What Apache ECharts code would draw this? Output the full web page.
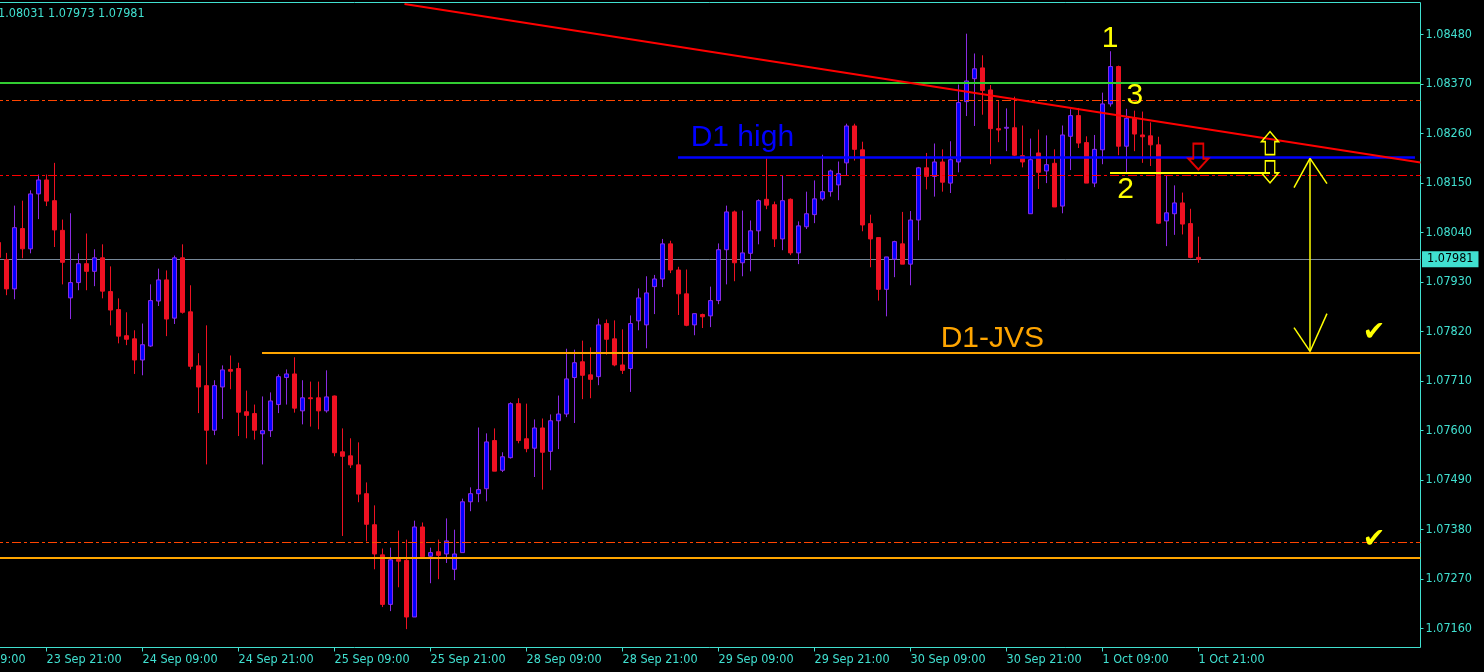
<!DOCTYPE html>
<html><head><meta charset="utf-8">
<script src="https://cdn.jsdelivr.net/npm/echarts@6/dist/echarts.min.js"></script>
<style>html,body{margin:0;padding:0;background:#000;}#c{width:1484px;height:672px;}</style>
</head><body><div id="c"></div>
<script>
// ---- DATA (EURUSD H1) ----
const firstBar = -1; // bar number of the first entry
const openP  = [1.08018,1.07980,1.07915,1.08049,1.08004,1.08126,1.08157,1.08111,1.08045,1.07895,1.07929,1.07971,1.07954,1.07984,1.07909,1.07869,1.07811,1.07804,1.07757,1.07788,1.07888,1.07935,1.07850,1.07984,1.07864,1.07744,1.07700,1.07601,1.07697,1.07736,1.07738,1.07642,1.07638,1.07593,1.07600,1.07658,1.07718,1.07726,1.07644,1.07673,1.07673,1.07644,1.07677,1.07553,1.07544,1.07524,1.07460,1.07391,1.07324,1.07214,1.07314,1.07312,1.07186,1.07386,1.07321,1.07331,1.07326,1.07292,1.07329,1.07442,1.07460,1.07471,1.07578,1.07512,1.07540,1.07660,1.07582,1.07561,1.07606,1.07554,1.07622,1.07637,1.07718,1.07753,1.07724,1.07720,1.07838,1.07804,1.07746,1.07738,1.07844,1.07835,1.07920,1.07937,1.08015,1.07957,1.07904,1.07835,1.07858,1.07855,1.07889,1.08002,1.08086,1.07973,1.07994,1.08044,1.08114,1.08102,1.08026,1.08114,1.07995,1.08053,1.08080,1.08115,1.08131,1.08146,1.08195,1.08277,1.08224,1.08060,1.08029,1.07914,1.07981,1.08015,1.07970,1.08068,1.08184,1.08165,1.08197,1.08150,1.08197,1.08331,1.08382,1.08406,1.08357,1.08271,1.08272,1.08273,1.08211,1.08082,1.08217,1.08177,1.08194,1.08099,1.08254,1.08300,1.08240,1.08150,1.08224,1.08326,1.08409,1.08232,1.08294,1.08257,1.08255,1.08235,1.08066,1.08082,1.08106,1.08060,1.07985];
const highP  = [1.08025,1.07995,1.08100,1.08111,1.08134,1.08169,1.08169,1.08195,1.08069,1.08083,1.07994,1.08038,1.08003,1.08014,1.07965,1.07894,1.07863,1.07823,1.07838,1.07925,1.07960,1.07956,1.07989,1.08014,1.07923,1.07772,1.07834,1.07712,1.07745,1.07767,1.07751,1.07689,1.07658,1.07676,1.07685,1.07725,1.07736,1.07763,1.07712,1.07709,1.07709,1.07734,1.07678,1.07605,1.07583,1.07574,1.07485,1.07434,1.07338,1.07340,1.07378,1.07358,1.07400,1.07396,1.07340,1.07358,1.07405,1.07380,1.07449,1.07474,1.07607,1.07594,1.07605,1.07552,1.07663,1.07672,1.07660,1.07625,1.07627,1.07636,1.07678,1.07782,1.07780,1.07800,1.07785,1.07849,1.07847,1.07845,1.07825,1.07856,1.07916,1.07943,1.07946,1.08026,1.08022,1.07964,1.07958,1.07860,1.07860,1.07920,1.08016,1.08100,1.08089,1.08089,1.08067,1.08114,1.08205,1.08109,1.08166,1.08116,1.08065,1.08131,1.08156,1.08213,1.08180,1.08198,1.08282,1.08282,1.08242,1.08080,1.08029,1.07986,1.08022,1.08086,1.08088,1.08186,1.08217,1.08238,1.08225,1.08243,1.08369,1.08482,1.08438,1.08434,1.08368,1.08332,1.08316,1.08342,1.08278,1.08249,1.08269,1.08256,1.08225,1.08278,1.08314,1.08317,1.08254,1.08257,1.08351,1.08443,1.08411,1.08315,1.08311,1.08309,1.08285,1.08253,1.08168,1.08145,1.08129,1.08093,1.08031];
const lowP   = [1.07976,1.07901,1.07892,1.07983,1.07994,1.08070,1.08099,1.08008,1.07925,1.07848,1.07912,1.07912,1.07921,1.07894,1.07834,1.07794,1.07790,1.07726,1.07723,1.07786,1.07877,1.07810,1.07837,1.07860,1.07736,1.07639,1.07525,1.07590,1.07626,1.07692,1.07588,1.07583,1.07580,1.07525,1.07586,1.07639,1.07658,1.07640,1.07614,1.07609,1.07603,1.07640,1.07543,1.07366,1.07517,1.07441,1.07354,1.07292,1.07208,1.07199,1.07252,1.07159,1.07186,1.07320,1.07261,1.07270,1.07306,1.07268,1.07329,1.07421,1.07441,1.07443,1.07510,1.07508,1.07538,1.07572,1.07552,1.07497,1.07469,1.07512,1.07559,1.07630,1.07617,1.07670,1.07672,1.07701,1.07769,1.07743,1.07726,1.07686,1.07823,1.07783,1.07859,1.07919,1.07950,1.07857,1.07832,1.07812,1.07828,1.07830,1.07881,1.07925,1.07932,1.07943,1.07954,1.08014,1.08092,1.08008,1.08001,1.07990,1.07970,1.08048,1.08061,1.08111,1.08120,1.08112,1.08168,1.08200,1.08043,1.07963,1.07889,1.07854,1.07941,1.07970,1.07923,1.08023,1.08136,1.08120,1.08131,1.08128,1.08174,1.08299,1.08277,1.08302,1.08192,1.08241,1.08221,1.08210,1.08185,1.08082,1.08137,1.08150,1.08097,1.08083,1.08179,1.08228,1.08150,1.08141,1.08192,1.08320,1.08212,1.08174,1.08221,1.08195,1.08188,1.08059,1.08010,1.08035,1.08036,1.07983,1.07973];
const closeP = [1.07985,1.07915,1.08051,1.08004,1.08126,1.08157,1.08110,1.08046,1.07974,1.07929,1.07971,1.07954,1.07984,1.07910,1.07868,1.07810,1.07803,1.07757,1.07791,1.07889,1.07935,1.07848,1.07984,1.07863,1.07743,1.07697,1.07601,1.07700,1.07735,1.07732,1.07641,1.07634,1.07601,1.07600,1.07666,1.07720,1.07726,1.07650,1.07673,1.07671,1.07644,1.07675,1.07551,1.07543,1.07524,1.07459,1.07392,1.07326,1.07214,1.07313,1.07310,1.07186,1.07386,1.07320,1.07329,1.07323,1.07355,1.07326,1.07442,1.07460,1.07469,1.07575,1.07510,1.07542,1.07660,1.07578,1.07560,1.07606,1.07552,1.07622,1.07637,1.07715,1.07751,1.07723,1.07714,1.07835,1.07803,1.07746,1.07734,1.07838,1.07895,1.07906,1.07937,1.08015,1.07957,1.07904,1.07834,1.07860,1.07853,1.07889,1.08002,1.08086,1.07973,1.07995,1.08044,1.08111,1.08101,1.08026,1.08111,1.07995,1.08055,1.08082,1.08115,1.08131,1.08177,1.08171,1.08277,1.08225,1.08057,1.08026,1.07914,1.07986,1.08020,1.07970,1.08068,1.08184,1.08165,1.08197,1.08152,1.08202,1.08329,1.08377,1.08404,1.08356,1.08271,1.08268,1.08274,1.08212,1.08197,1.08202,1.08174,1.08191,1.08097,1.08257,1.08300,1.08239,1.08150,1.08225,1.08326,1.08409,1.08232,1.08294,1.08259,1.08253,1.08235,1.08061,1.08084,1.08106,1.08059,1.07985,1.07981];

const tickBars   = [-7,5,17,29,41,53,65,77,89,101,113,125,137,149];
const tickLabels = ['23 Sep 09:00','23 Sep 21:00','24 Sep 09:00','24 Sep 21:00','25 Sep 09:00','25 Sep 21:00','28 Sep 09:00','28 Sep 21:00','29 Sep 09:00','29 Sep 21:00','30 Sep 09:00','30 Sep 21:00','1 Oct 09:00','1 Oct 21:00'];
const priceTicks = [1.07160,1.07270,1.07380,1.07490,1.07600,1.07710,1.07820,1.07930,1.08040,1.08150,1.08260,1.08370,1.08480];
const priceMin = 1.071182, priceMax = 1.085513;
const barMin = -8.3125, barMax = 176.75;

// levels and drawn objects (bar number, price)
const greenLevel = 1.08372;
const upperDashLevel = 1.08335;
const midDashLevel = 1.08168;
const lowerDashLevel = 1.07351;
const bottomOrangeLevel = 1.07318;
const lastPrice = 1.07981;
const d1High = {from: 83.94, to: 176.06, price: 1.08208};
const d1Jvs = {from: 31.94, to: 176.75, price: 1.07774};
const level2 = {from: 137.94, to: 157.94, price: 1.08172};
const trendLine = [[49.75, 1.08548], [176.75, 1.08196]];
const bigArrow = {bar: 162.94, top: 1.08205, bottom: 1.07776, leftBar: 160.94, rightBar: 165.06,
  topLeft: 1.08140, topRight: 1.08149, bottomLeft: 1.07829, bottomRight: 1.07860};
const labelsLeft = [
  {name: 'D1 high', value: [85.46, 1.08251], color: '#0000FF'},
  {name: 'D1-JVS', value: [116.71, 1.07805], color: '#FFA500'}
];
const labelsCenter = [
  {name: '1', value: [137.96, 1.08471]},
  {name: '3', value: [141.04, 1.08345]},
  {name: '2', value: [139.9, 1.08135]}
];
const checkMarks = [[170.94, 1.07818], [170.94, 1.07357]];
const redArrow = [148.98, 1.08209];
const yellowUp = [157.94, 1.08239];
const yellowDown = [157.94, 1.08175];

// ---- CHART ----
const AX = '#40E0D0';
const FONT = "'DejaVu Sans Condensed','Liberation Sans',sans-serif";
const candleData = openP.map((o, i) => [firstBar + i, o, closeP[i], lowP[i], highP[i]]);
const last = closeP.length - 1;
const CLEAR = {color: 'rgba(0,0,0,0)', opacity: 1};

function hline(price, color, width, type, z) {
  return {type: 'lines', coordinateSystem: 'cartesian2d', polyline: false, silent: true, z: z,
    lineStyle: {color: color, width: width, type: type || 'solid', opacity: 1},
    data: [{coords: [[barMin, price], [barMax, price]]}]};
}
function segs(list, color, width, z) {
  return {type: 'lines', coordinateSystem: 'cartesian2d', polyline: false, silent: true, z: z || 4,
    lineStyle: {color: color, width: width, opacity: 1},
    data: list.map(s => ({coords: s}))};
}
const dashDot = [9, 3, 3, 3];

const chart = echarts.init(document.getElementById('c'), null, {renderer: 'canvas', width: 1484, height: 672});
chart.setOption({
  animation: false,
  backgroundColor: '#000000',
  grid: {left: -60, right: 63.5, top: 2.5, bottom: 24.5, show: true, borderColor: AX, borderWidth: 1,
    backgroundColor: 'transparent', containLabel: false, outerBoundsMode: 'none'},
  xAxis: {type: 'value', min: barMin, max: barMax,
    axisLine: {show: false, onZero: false}, splitLine: {show: false},
    axisTick: {show: true, customValues: tickBars, length: 4, lineStyle: {color: AX}},
    axisLabel: {show: true, customValues: tickBars, color: AX, fontFamily: FONT, fontSize: 12.5, align: 'left', margin: 6,
      formatter: v => tickLabels[tickBars.indexOf(Math.round(v))] || ''}},
  yAxis: {type: 'value', position: 'right', min: priceMin, max: priceMax,
    axisLine: {show: false, onZero: false}, splitLine: {show: false},
    axisTick: {show: true, customValues: priceTicks, length: 3, lineStyle: {color: AX}},
    axisLabel: {show: true, customValues: priceTicks, color: AX, fontFamily: FONT, fontSize: 12.5, margin: 5,
      formatter: v => v.toFixed(5)}},
  graphic: [{type: 'text', left: -2, top: 7, z: 10,
    style: {text: highP[last].toFixed(5) + ' ' + lowP[last].toFixed(5) + ' ' + closeP[last].toFixed(5),
      fill: AX, fontFamily: FONT, fontSize: 12.5}}],
  series: [
    hline(lastPrice, '#778899', 1, 'solid', 1),
    {type: 'candlestick', z: 2, barWidth: 4, data: candleData, silent: true,
      itemStyle: {color: '#0000FF', color0: '#EE1122', borderColor: '#8A2BE2', borderColor0: '#EE1122', borderWidth: 1, opacity: 1}},
    hline(greenLevel, '#32CD32', 2, 'solid', 3),
    hline(upperDashLevel, '#FF4500', 1, dashDot, 3),
    hline(midDashLevel, '#FF0000', 1, dashDot, 3),
    hline(lowerDashLevel, '#FF4500', 1, dashDot, 3),
    hline(bottomOrangeLevel, '#FFA500', 2, 'solid', 3),
    segs([[[d1Jvs.from, d1Jvs.price], [d1Jvs.to, d1Jvs.price]]], '#FFA500', 2),
    segs([[[d1High.from, d1High.price], [d1High.to, d1High.price]]], '#0000FF', 2.5),
    segs([trendLine], '#FF0000', 2),
    segs([[[level2.from, level2.price], [level2.to, level2.price]]], '#FFFF00', 2),
    segs([
      [[bigArrow.bar, bigArrow.top], [bigArrow.bar, bigArrow.bottom]],
      [[bigArrow.bar, bigArrow.top], [bigArrow.leftBar, bigArrow.topLeft]],
      [[bigArrow.bar, bigArrow.top], [bigArrow.rightBar, bigArrow.topRight]],
      [[bigArrow.bar, bigArrow.bottom], [bigArrow.leftBar, bigArrow.bottomLeft]],
      [[bigArrow.bar, bigArrow.bottom], [bigArrow.rightBar, bigArrow.bottomRight]]
    ], '#FFFF00', 1.5, 5),
    {type: 'scatter', z: 6, silent: true, clip: false, symbolSize: 1, itemStyle: CLEAR,
      data: labelsLeft.map(d => ({name: d.name, value: d.value, label: {color: d.color}})),
      label: {show: true, opacity: 1, position: 'right', distance: 0, formatter: '{b}', fontFamily: "'Liberation Sans',Arial,sans-serif", fontSize: 30}},
    {type: 'scatter', z: 6, silent: true, clip: false, symbolSize: 1, itemStyle: CLEAR,
      data: labelsCenter,
      label: {show: true, opacity: 1, position: 'inside', formatter: '{b}', color: '#FFFF00', fontFamily: "'Liberation Sans',Arial,sans-serif", fontSize: 30}},
    {type: 'scatter', z: 6, silent: true, clip: false, symbolSize: 1, itemStyle: CLEAR,
      data: checkMarks,
      label: {show: true, opacity: 1, position: 'inside', formatter: '\u2714', color: '#FFFF00', fontFamily: "'DejaVu Sans',sans-serif", fontSize: 27}},
    {type: 'scatter', z: 6, silent: true, clip: false, data: [redArrow],
      symbol: 'path://M5,0L15,0L15,15L20,15L10,26L0,15L5,15Z', symbolSize: [20, 26],
      itemStyle: {color: 'rgba(0,0,0,0)', borderColor: '#E00000', borderWidth: 2, opacity: 1}},
    {type: 'scatter', z: 6, silent: true, clip: false, data: [yellowUp],
      symbol: 'path://M9,0L18,10L14,10L14,23L4,23L4,10L0,10Z', symbolSize: [17, 23],
      itemStyle: {color: 'rgba(0,0,0,0)', borderColor: '#FFFF00', borderWidth: 1.5, opacity: 1}},
    {type: 'scatter', z: 6, silent: true, clip: false, data: [yellowDown],
      symbol: 'path://M4,0L14,0L14,12L18,12L9,22L0,12L4,12Z', symbolSize: [17, 22],
      itemStyle: {color: 'rgba(0,0,0,0)', borderColor: '#FFFF00', borderWidth: 1.5, opacity: 1}},
    {type: 'scatter', z: 7, silent: true, clip: false, symbolSize: 1, itemStyle: CLEAR,
      data: [[barMax, lastPrice]],
      label: {show: true, opacity: 1, position: 'right', distance: 1, formatter: lastPrice.toFixed(5), color: '#000000',
        backgroundColor: AX, padding: [2, 5, 1, 5], fontFamily: FONT, fontSize: 12.5}}
  ]
});
</script>
</body></html>
